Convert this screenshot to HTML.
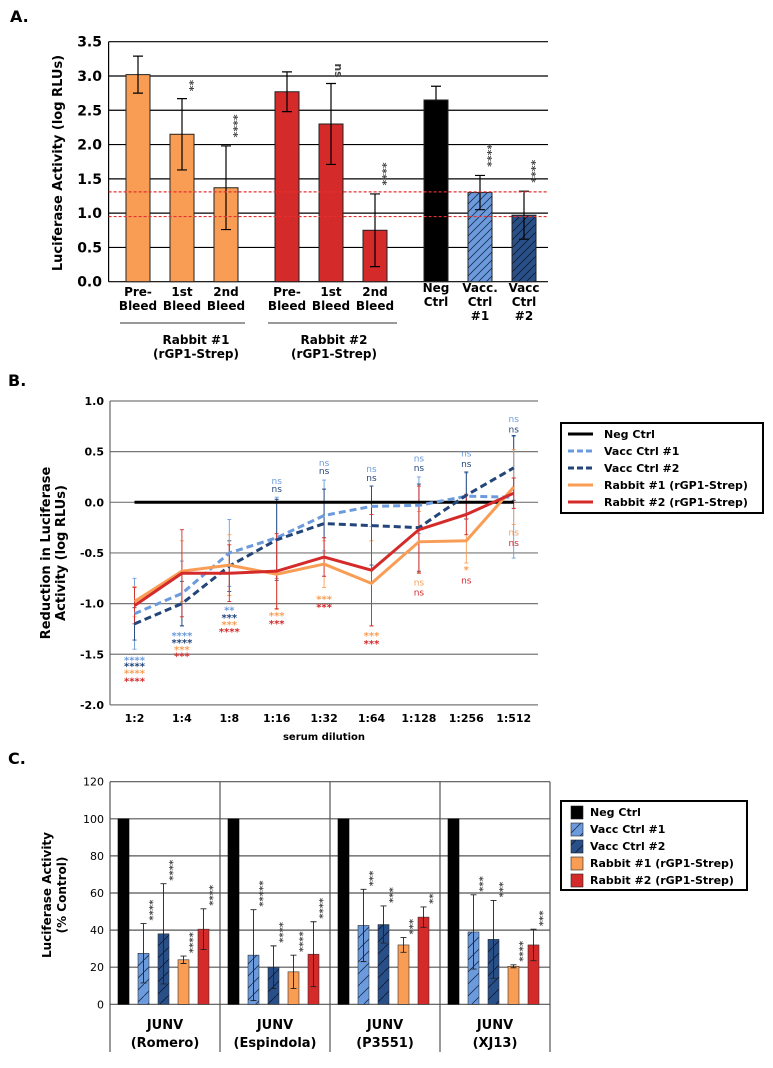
<!DOCTYPE html>
<html><head><meta charset="utf-8"><style>
html,body{margin:0;padding:0;background:#fff;}
svg{display:block;font-family:"DejaVu Sans","Liberation Sans",sans-serif;}
</style></head><body>
<svg id="fig" width="773" height="1068" viewBox="0 0 773 1068" xmlns="http://www.w3.org/2000/svg">
<defs>
<pattern id="hatchL" patternUnits="userSpaceOnUse" width="8" height="8"><rect width="8" height="8" fill="#6b9bdc"/><path d="M-2,10 L10,-2 M-2,2 L2,-2 M6,10 L10,6" stroke="#1b2f55" stroke-width="0.8"/></pattern>
<pattern id="hatchD" patternUnits="userSpaceOnUse" width="8" height="8"><rect width="8" height="8" fill="#284f88"/><path d="M-2,10 L10,-2 M-2,2 L2,-2 M6,10 L10,6" stroke="#0d1a33" stroke-width="0.8"/></pattern>
<pattern id="hatchLC" patternUnits="userSpaceOnUse" width="12" height="12"><rect width="12" height="12" fill="#6b9bdc"/><path d="M-2,14 L14,-2" stroke="#1b2f55" stroke-width="0.8"/></pattern>
<pattern id="hatchDC" patternUnits="userSpaceOnUse" width="12" height="12"><rect width="12" height="12" fill="#284f88"/><path d="M-2,14 L14,-2" stroke="#0d1a33" stroke-width="0.8"/></pattern>
</defs>
<g id="pa"></g>
<g id="pb"></g>
<g id="pc"></g>
</svg>
<script>
// ---------- Panel A data ----------
const aCategories = ['Pre-|Bleed','1st|Bleed','2nd|Bleed','Pre-|Bleed','1st|Bleed','2nd|Bleed','Neg|Ctrl','Vacc.|Ctrl|#1','Vacc|Ctrl|#2'];
const aGroups = [0,0,0,1,1,1,2,2,2];
const aValues = [3.02,2.15,1.37,2.77,2.30,0.75,2.65,1.30,0.97];
const aErrors = [0.27,0.52,0.61,0.29,0.59,0.53,0.20,0.25,0.35];
const aSig = ['','**','****','','ns','****','','****','****'];
const aTicks = [0,0.5,1.0,1.5,2.0,2.5,3.0,3.5];
const aThresholds = [1.31,0.95];

// ---------- Panel B data ----------
const bCategories = ['1:2','1:4','1:8','1:16','1:32','1:64','1:128','1:256','1:512'];
const bNeg = [0,0,0,0,0,0,0,0,0];
const bVacc1 = [-1.10,-0.90,-0.50,-0.35,-0.13,-0.04,-0.03,0.06,0.05];
const bVacc2 = [-1.20,-1.00,-0.63,-0.37,-0.21,-0.23,-0.25,0.07,0.34];
const bRab1 = [-0.98,-0.68,-0.62,-0.71,-0.61,-0.80,-0.39,-0.38,0.15];
const bRab2 = [-1.02,-0.70,-0.70,-0.68,-0.54,-0.67,-0.27,-0.12,0.09];
const bErrVacc1 = [0.35,0.32,0.33,0.40,0.35,0.20,0.28,0.23,0.60];
const bErrVacc2 = [0.16,0.22,0.25,0.40,0.34,0.39,0.43,0.23,0.32];
const bErrRab1 = [0.15,0.30,0.30,0.35,0.23,0.42,0.30,0.22,0.37];
const bErrRab2 = [0.18,0.43,0.28,0.37,0.19,0.55,0.43,0.20,0.15];
const bSigVacc1 = ['****','****','**','ns','ns','ns','ns','ns','ns'];
const bSigVacc1Y = [-1.56,-1.32,-1.07,0.21,0.39,0.33,0.43,0.48,0.82];
const bSigVacc2 = ['****','****','***','ns','ns','ns','ns','ns','ns'];
const bSigVacc2Y = [-1.62,-1.39,-1.14,0.13,0.31,0.24,0.34,0.38,0.72];
const bSigRab1 = ['****','***','***','***','***','***','ns','*','ns'];
const bSigRab1Y = [-1.69,-1.46,-1.21,-1.12,-0.96,-1.32,-0.79,-0.67,-0.30];
const bSigRab2 = ['****','***','****','***','***','***','ns','ns','ns'];
const bSigRab2Y = [-1.77,-1.52,-1.28,-1.20,-1.04,-1.40,-0.89,-0.77,-0.40];
const bTicks = [-2.0,-1.5,-1.0,-0.5,0.0,0.5,1.0];

// ---------- Panel C data ----------
const cGroups = ['JUNV|(Romero)','JUNV|(Espindola)','JUNV|(P3551)','JUNV|(XJ13)'];
const cNeg = [100,100,100,100];
const cVacc1 = [27.5,26.5,42.5,39];
const cVacc2 = [38,20,43,35];
const cRab1 = [24,17.5,32,20.5];
const cRab2 = [40.5,27,47,32];
const cErrVacc1 = [16,24.5,19.5,20];
const cErrVacc2 = [27,11.5,10,21];
const cErrRab1 = [2,9,4,0.8];
const cErrRab2 = [11,17.5,5.5,8.5];
const cSigVacc1 = ['****','*****','***','***'];
const cSigVacc2 = ['****','****','***','***'];
const cSigRab1 = ['****','****','***','****'];
const cSigRab2 = ['****','****','**','***'];
const cTicks = [0,20,40,60,80,100,120];

const NS='http://www.w3.org/2000/svg';
function mk(parent,tag,attrs,text){const e=document.createElementNS(NS,tag);for(const k in attrs)e.setAttribute(k,attrs[k]);if(text!==undefined)e.textContent=text;parent.appendChild(e);return e;}

// ================= PANEL A =================
(function(){
const g=document.getElementById('pa');
const y=v=>281.7-v*68.57;
const x=i=>138+i*44+aGroups[i]*17;
const L=108.6,R=548;
let t=mk(g,'text',{x:10,y:22,'font-size':16,'font-weight':'bold'},'A.');


aTicks.forEach(v=>{
 let l=mk(g,'line',{x1:L,x2:R,y1:y(v),y2:y(v),stroke:'#000','stroke-width':1.2});
 
 
 let tl=mk(g,'text',{x:102,y:y(v)+5,'font-size':14,'font-weight':'bold','text-anchor':'end'},v.toFixed(1));
 
 
});
let ax=mk(g,'line',{x1:L,x2:L,y1:y(3.5),y2:y(0),stroke:'#000','stroke-width':1.2});


let yt=mk(g,'text',{x:0,y:0,'font-size':13,'font-weight':'bold','text-anchor':'middle',transform:'translate(62,163) rotate(-90)'},'Luciferase Activity (log RLUs)');


const fills=['#f99d55','#f99d55','#f99d55','#d42a2a','#d42a2a','#d42a2a','#000','url(#hatchL)','url(#hatchD)'];
aValues.forEach((v,i)=>{
 let b=mk(g,'rect',{x:x(i)-12,y:y(v),width:24,height:y(0)-y(v),fill:fills[i],stroke:'#222','stroke-width':1});
 
 
 const e=aErrors[i];const lo=i===6?v:v-e;
 let eb=mk(g,'path',{d:`M${x(i)},${y(v+e)}V${y(lo)}M${x(i)-5},${y(v+e)}h10`+(i===6?'':`M${x(i)-5},${y(lo)}h10`),stroke:'#000','stroke-width':1.2,fill:'none'});
 
 
 if(aSig[i]){
  const sy=y(v+e)-6-aSig[i].length*3.5;
  let s=mk(g,'text',{x:0,y:0,'font-size':11,'font-weight':'bold',fill:'#444','text-anchor':'middle',transform:`translate(${x(i)+4},${sy}) rotate(90)`},aSig[i]);
  
  
 }
 aCategories[i].split('|').forEach((w,k)=>{
  let c=mk(g,'text',{x:x(i),y:(i>=6?292:296)+k*14,'font-size':12,'font-weight':'bold','text-anchor':'middle'},w);
  
  
 });
});
aThresholds.forEach(v=>{
 let d=mk(g,'line',{x1:L,x2:R,y1:y(v),y2:y(v),stroke:'#e43030','stroke-width':1.2,'stroke-dasharray':'3,2'});
 
 
});
[[120,245,'Rabbit #1','196'],[268,397,'Rabbit #2','334']].forEach(r=>{
 let u=mk(g,'line',{x1:r[0],x2:r[1],y1:323,y2:323,stroke:'#333','stroke-width':1});
 
 
 let t1=mk(g,'text',{x:+r[3],y:344,'font-size':12,'font-weight':'bold','text-anchor':'middle'},r[2]);
 
 
 let t2=mk(g,'text',{x:+r[3],y:358,'font-size':12,'font-weight':'bold','text-anchor':'middle'},'(rGP1-Strep)');
 
 
});
})();

// ================= PANEL B =================
(function(){
const g=document.getElementById('pb');
const y=v=>401+(1-v)*101.3;
const x=i=>134.5+i*47.4;
const L=110,R=538;
let t=mk(g,'text',{x:8,y:386,'font-size':16,'font-weight':'bold'},'B.');


bTicks.forEach(v=>{
 let l=mk(g,'line',{x1:L,x2:R,y1:y(v),y2:y(v),stroke:'#777','stroke-width':1.2});
 
 
 let tl=mk(g,'text',{x:104,y:y(v)+4,'font-size':11,'font-weight':'bold','text-anchor':'end'},v.toFixed(1));
 
 
});
let ax=mk(g,'line',{x1:L,x2:L,y1:y(1),y2:y(-2),stroke:'#666','stroke-width':1.2});


let t1=mk(g,'text',{x:0,y:0,'font-size':13,'font-weight':'bold','text-anchor':'middle',transform:'translate(50,553) rotate(-90)'},'Reduction in Luciferase');


let t2=mk(g,'text',{x:0,y:0,'font-size':13,'font-weight':'bold','text-anchor':'middle',transform:'translate(65,553) rotate(-90)'},'Activity (log RLUs)');


bCategories.forEach((c,i)=>{
 let tl=mk(g,'text',{x:x(i),y:722,'font-size':11,'font-weight':'bold','text-anchor':'middle'},c);
 
 
});
let xt=mk(g,'text',{x:324,y:740,'font-size':10,'font-weight':'bold','text-anchor':'middle'},'serum dilution');


const series=[
 {n:'neg-ctrl',v:bNeg,e:null,c:'#000',d:'',s:null,sy:null},
 {n:'vacc-ctrl-1',v:bVacc1,e:bErrVacc1,c:'#6b9bdc',d:'7,4',s:bSigVacc1,sy:bSigVacc1Y},
 {n:'vacc-ctrl-2',v:bVacc2,e:bErrVacc2,c:'#23457a',d:'7,4',s:bSigVacc2,sy:bSigVacc2Y},
 {n:'rabbit-1',v:bRab1,e:bErrRab1,c:'#f99d55',d:'',s:bSigRab1,sy:bSigRab1Y},
 {n:'rabbit-2',v:bRab2,e:bErrRab2,c:'#d42a2a',d:'',s:bSigRab2,sy:bSigRab2Y}];
series.forEach(S=>{
 if(S.e) S.v.forEach((v,i)=>{
  let eb=mk(g,'path',{d:`M${x(i)},${y(v+S.e[i])}V${y(v-S.e[i])}M${x(i)-2},${y(v+S.e[i])}h4M${x(i)-2},${y(v-S.e[i])}h4`,stroke:S.c,'stroke-width':0.9,fill:'none'});
  
  
 });
});
series.forEach(S=>{
 let p=mk(g,'polyline',{points:S.v.map((v,i)=>x(i)+','+y(v)).join(' '),fill:'none',stroke:S.c,'stroke-width':3,'stroke-dasharray':S.d});
 
 
 if(S.s) S.s.forEach((s,i)=>{
  let st=mk(g,'text',{x:x(i),y:y(S.sy[i])+3,'font-size':s==='ns'?9:10,'font-weight':s==='ns'?'normal':'bold',fill:S.c,'text-anchor':'middle'},s);
  
  
 });
});
let lb=mk(g,'rect',{x:561,y:423,width:202,height:90,fill:'#fff',stroke:'#000','stroke-width':2});


const names=['Neg Ctrl','Vacc Ctrl #1','Vacc Ctrl #2','Rabbit #1 (rGP1-Strep)','Rabbit #2 (rGP1-Strep)'];
series.forEach((S,k)=>{
 const ly=434+k*17;
 let ll=mk(g,'line',{x1:568,x2:593,y1:ly,y2:ly,stroke:S.c,'stroke-width':3,'stroke-dasharray':S.d?'6,3':''});
 
 
 let lt=mk(g,'text',{x:604,y:ly+4,'font-size':11,'font-weight':'bold'},names[k]);
 
 
});
})();

// ================= PANEL C =================
(function(){
const g=document.getElementById('pc');
const y=v=>1004.3-v*1.855;
const L=110,R=550,GW=110;
const bx=(gi,k)=>L+gi*GW+8+k*20;
let t=mk(g,'text',{x:8,y:764,'font-size':16,'font-weight':'bold'},'C.');


cTicks.forEach(v=>{
 let l=mk(g,'line',{x1:L,x2:R,y1:y(v),y2:y(v),stroke:'#555','stroke-width':1.2});
 
 
 let tl=mk(g,'text',{x:104,y:y(v)+4,'font-size':11,'text-anchor':'end'},String(v));
 
 
});
for(let k=0;k<=4;k++){
 let d=mk(g,'line',{x1:L+k*GW,x2:L+k*GW,y1:y(120),y2:k===0||k===4?1052:1052,stroke:'#555','stroke-width':1.2});
 
 
}
let t1=mk(g,'text',{x:0,y:0,'font-size':12,'font-weight':'bold','text-anchor':'middle',transform:'translate(51,895) rotate(-90)'},'Luciferase Activity');


let t2=mk(g,'text',{x:0,y:0,'font-size':12,'font-weight':'bold','text-anchor':'middle',transform:'translate(66,895) rotate(-90)'},'(% Control)');


const ser=[
 {n:'neg-ctrl',v:cNeg,e:null,s:null,f:'#000'},
 {n:'vacc-ctrl-1',v:cVacc1,e:cErrVacc1,s:cSigVacc1,f:'url(#hatchLC)'},
 {n:'vacc-ctrl-2',v:cVacc2,e:cErrVacc2,s:cSigVacc2,f:'url(#hatchDC)'},
 {n:'rabbit-1',v:cRab1,e:cErrRab1,s:cSigRab1,f:'#f99d55'},
 {n:'rabbit-2',v:cRab2,e:cErrRab2,s:cSigRab2,f:'#d42a2a'}];
cGroups.forEach((gn,gi)=>{
 ser.forEach((S,k)=>{
  const v=S.v[gi],cx=bx(gi,k)+5.5;
  let b=mk(g,'rect',{x:bx(gi,k),y:y(v),width:11,height:y(0)-y(v),fill:S.f,stroke:k===0?'#000':'#333','stroke-width':0.6});
  
  
  if(S.e){
   const e=S.e[gi];
   let eb=mk(g,'path',{d:`M${cx},${y(v+e)}V${y(v-e)}M${cx-3},${y(v+e)}h6M${cx-3},${y(v-e)}h6`,stroke:'#222','stroke-width':0.9,fill:'none'});
   
   
   const s=S.s[gi];
   let st=mk(g,'text',{x:0,y:0,'font-size':10,'font-weight':'bold',fill:'#444','text-anchor':'end',transform:`translate(${cx+3},${y(v+e)-3}) rotate(90)`},s);
   
   
  }
 });
 gn.split('|').forEach((w,k)=>{
  let gl=mk(g,'text',{x:L+gi*GW+GW/2,y:1029+k*18,'font-size':13,'font-weight':'bold','text-anchor':'middle'},w);
  
  
 });
});
let lb=mk(g,'rect',{x:561,y:801,width:186,height:89,fill:'#fff',stroke:'#000','stroke-width':2});


const names=['Neg Ctrl','Vacc Ctrl #1','Vacc Ctrl #2','Rabbit #1 (rGP1-Strep)','Rabbit #2 (rGP1-Strep)'];
ser.forEach((S,k)=>{
 const ly=812+k*17;
 let sw=mk(g,'rect',{x:571,y:ly-6,width:12,height:13,fill:S.f,stroke:'#222','stroke-width':0.6});
 
 
 let lt=mk(g,'text',{x:590,y:ly+4,'font-size':11,'font-weight':'bold'},names[k]);
 
 
});
})();
</script>
</body></html>
